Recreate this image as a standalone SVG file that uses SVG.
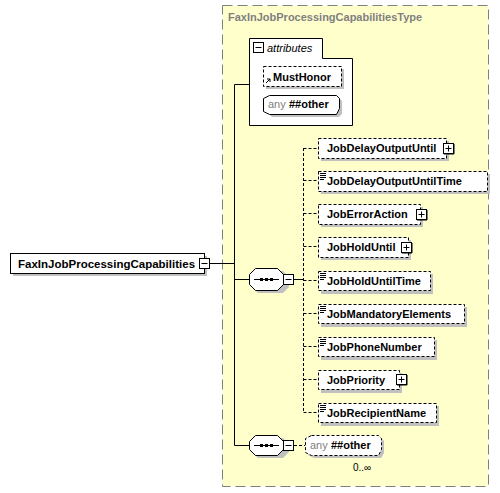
<svg xmlns="http://www.w3.org/2000/svg" width="500" height="493" viewBox="0 0 500 493">
<style>
.t{font-family:"Liberation Sans",Arial,sans-serif;font-size:11px;font-weight:bold;fill:#000}
.g{font-family:"Liberation Sans",Arial,sans-serif;font-size:11px;fill:#808080}
.sh{fill:#c0c0c0}
.el{fill:#fff;stroke:#000;stroke-width:1}
.opt{fill:#fff;stroke:#000;stroke-width:1;stroke-dasharray:3,2}
.ln{stroke:#000;stroke-width:1;fill:none}
.dl{stroke:#000;stroke-width:1;fill:none;stroke-dasharray:3,2}
</style>
<defs>
<g id="plus"><rect x="0.5" y="0.5" width="10" height="10" fill="#fff" stroke="#000"/><path d="M2.5 5.5H8.5M5.5 2.5V8.5" stroke="#000"/><path d="M11 1V11H1" stroke="#000" fill="none"/></g>
<g id="minus"><rect x="0.5" y="0.5" width="10" height="10" fill="#fff" stroke="#000"/><path d="M2.5 5.5H8.5" stroke="#000"/></g>
<g id="simp"><path d="M0 0.5H6M0 2.5H6M0 4.5H6M0 6.5H4" stroke="#000"/></g>
</defs>
<rect x="222.5" y="5.5" width="266" height="481" fill="#ffffcc" stroke="#808080" stroke-dasharray="10,5"/>
<text x="228" y="21" class="g" style="font-weight:bold">FaxInJobProcessingCapabilitiesType</text>

<g id="connectors">
<path class="ln" d="M210 263.5H234.5M234.5 84.5V445.5M234.5 84.5H249M234.5 279.5H249M234.5 445.5H249"/>
<path class="ln" d="M294 279.5H303.5"/>
<path class="dl" d="M303.5 148V412.5"/>
<path class="dl" d="M303.5 148.5H318M303.5 180.5H318M303.5 213.5H318M303.5 246.5H318M303.5 280.5H318M303.5 313.5H318M303.5 346.5H318M303.5 379.5H318M303.5 412.5H318"/>
<path class="dl" d="M294 445.5H305"/>
</g>

<g id="attributes">
<path d="M249.5 38.5H322.5V58.5H352.5V125.5H249.5Z" fill="#fff" stroke="#000"/>
<use href="#minus" x="253" y="42"/>
<text x="267" y="52" style="font-family:'Liberation Sans',Arial,sans-serif;font-size:11px;font-style:italic">attributes</text>
</g>
<g id="MustHonor">
<rect x="266" y="69" width="78" height="20" class="sh"/>
<rect x="263.5" y="66.5" width="78" height="20" class="opt"/>
<path d="M266 83L270 79M267 79H270V82" stroke="#000" fill="none"/>
<text x="273" y="81" class="t">MustHonor</text>
</g>
<g id="anyAttr">
<path d="M272 98H339L342 101V114L339 117H272L266 111V104Z" class="sh"/>
<path d="M269.5 95.5H336.5L339.5 98.5V108.5L336.5 114.5H269.5L263.5 111.5V98.5Z" fill="#fff" stroke="#000"/>
<text x="268" y="108" class="g">any</text>
<text x="289" y="108" class="t">##other</text>
</g>

<g id="FaxInJobProcessingCapabilities">
<rect x="13" y="256" width="194" height="20" class="sh"/>
<rect x="10.5" y="253.5" width="194" height="20" class="el"/>
<text x="18" y="267.5" class="t" style="font-size:11.5px">FaxInJobProcessingCapabilities</text>
<use href="#minus" x="199" y="258"/>
</g>

<g id="sequence1">
<path d="M258 271H283L289 277V287L283 293H258L252 287V277Z" class="sh"/>
<path d="M255.5 268.5H277.5L283.5 274.5V284.5L277.5 290.5H255.5L249.5 284.5V274.5Z" class="el"/>
<path d="M254 279.5H279" stroke="#000"/>
<rect x="260" y="278" width="3" height="3"/><rect x="265" y="278" width="3" height="3"/><rect x="270" y="278" width="3" height="3"/>
<use href="#minus" x="283" y="274"/>
</g>

<g id="JobDelayOutputUntil">
<rect x="321" y="141" width="128" height="20" class="sh"/>
<rect x="318.5" y="138.5" width="128" height="20" class="opt"/>
<text x="327" y="152" class="t">JobDelayOutputUntil</text>
<use href="#plus" x="443" y="143"/>
</g>
<g id="JobDelayOutputUntilTime">
<rect x="321" y="174" width="169" height="20" class="sh"/>
<rect x="318.5" y="171.5" width="169" height="20" class="opt"/>
<use href="#simp" x="320" y="173"/>
<text x="327" y="185" class="t">JobDelayOutputUntilTime</text>
</g>
<g id="JobErrorAction">
<rect x="321" y="207" width="102" height="20" class="sh"/>
<rect x="318.5" y="204.5" width="102" height="20" class="opt"/>
<text x="327" y="218" class="t">JobErrorAction</text>
<use href="#plus" x="416" y="209"/>
</g>
<g id="JobHoldUntil">
<rect x="321" y="240" width="90" height="20" class="sh"/>
<rect x="318.5" y="237.5" width="90" height="20" class="opt"/>
<text x="327" y="251" class="t">JobHoldUntil</text>
<use href="#plus" x="401" y="242"/>
</g>
<g id="JobHoldUntilTime">
<rect x="321" y="274" width="112" height="20" class="sh"/>
<rect x="318.5" y="271.5" width="112" height="19" class="opt"/>
<use href="#simp" x="320" y="273"/>
<text x="327" y="285" class="t">JobHoldUntilTime</text>
</g>
<g id="JobMandatoryElements">
<rect x="321" y="307" width="146" height="20" class="sh"/>
<rect x="318.5" y="304.5" width="146" height="19" class="opt"/>
<use href="#simp" x="320" y="306"/>
<text x="327" y="318" class="t">JobMandatoryElements</text>
</g>
<g id="JobPhoneNumber">
<rect x="321" y="340" width="116" height="20" class="sh"/>
<rect x="318.5" y="337.5" width="116" height="19" class="opt"/>
<use href="#simp" x="320" y="339"/>
<text x="327" y="351" class="t">JobPhoneNumber</text>
</g>
<g id="JobPriority">
<rect x="321" y="373" width="81" height="20" class="sh"/>
<rect x="318.5" y="370.5" width="81" height="19" class="opt"/>
<text x="327" y="384" class="t">JobPriority</text>
<use href="#plus" x="396" y="374"/>
</g>
<g id="JobRecipientName">
<rect x="321" y="406" width="118" height="20" class="sh"/>
<rect x="318.5" y="403.5" width="118" height="19" class="opt"/>
<use href="#simp" x="320" y="405"/>
<text x="327" y="417" class="t">JobRecipientName</text>
</g>

<g id="sequence2">
<path d="M258 438H283L289 444V452L283 458H258L252 452V444Z" class="sh"/>
<path d="M255.5 435.5H277.5L283.5 441.5V449.5L277.5 455.5H255.5L249.5 449.5V441.5Z" class="el"/>
<path d="M254 445.5H279" stroke="#000"/>
<rect x="260" y="444" width="3" height="3"/><rect x="265" y="444" width="3" height="3"/><rect x="270" y="444" width="3" height="3"/>
<use href="#minus" x="283" y="440"/>
</g>
<g id="anyElement">
<path d="M314 438H381L384 441V453L381 458H314L308 455V441Z" class="sh"/>
<path d="M311.5 435.5H378.5L381.5 438.5V449.5L378.5 455.5H311.5L305.5 452.5V438.5Z" class="opt"/>
<text x="310" y="449" class="g">any</text>
<text x="331" y="449" class="t">##other</text>
<text x="353" y="471" style="font-family:'Liberation Sans',Arial,sans-serif;font-size:10px">0..∞</text>
</g>
</svg>
